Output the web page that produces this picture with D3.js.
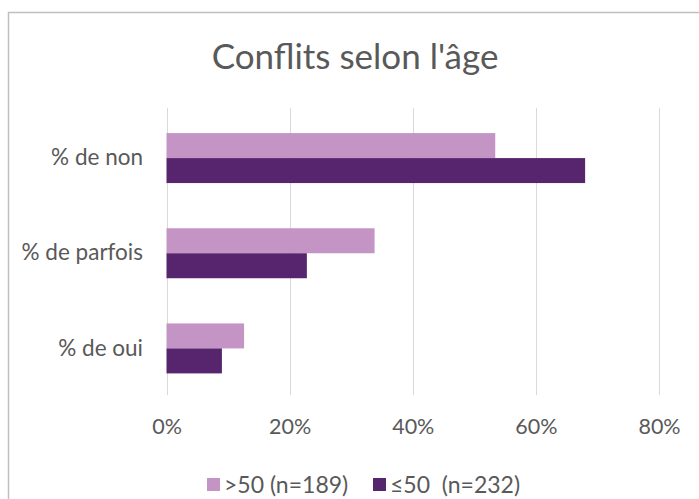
<!DOCTYPE html>
<html>
<head>
<meta charset="utf-8">
<script src="https://cdn.jsdelivr.net/npm/d3@7"></script>
<style>
  html, body { margin: 0; padding: 0; background: #fff; }
  svg { display: block; }
  text { font-family: Lato, "Open Sans", sans-serif; fill: #595959; white-space: pre; }
</style>
</head>
<body>
<svg id="chart" width="699" height="499"></svg>
<script>
const title = "Conflits selon l'âge";
const categories = ["% de non", "% de parfois", "% de oui"];
const seriesNames = [">50 (n=189)", "≤50  (n=232)"];
const over50 = [0.534, 0.338, 0.126];
const under50 = [0.680, 0.228, 0.090];
const tickValues = [0, 0.2, 0.4, 0.6, 0.8];
const colors = ["#c394c4", "#56256d"];

const svg = d3.select("#chart");

// chart border (extends past right/bottom edges)
svg.append("rect")
  .attr("x", 8.5).attr("y", 12.5)
  .attr("width", 720).attr("height", 520)
  .attr("fill", "#fff")
  .attr("stroke", "#bfbfbf").attr("stroke-width", 1.5);

svg.append("text")
  .attr("x", 355).attr("y", 69)
  .attr("text-anchor", "middle")
  .style("font-size", "35px")
  .text(title);

const x = d3.scaleLinear().domain([0, 0.8]).range([166.5, 659]);
const y = d3.scaleBand().domain(categories).range([110.5, 396])
  .paddingInner(0.475).paddingOuter(0.2375);
const ySub = d3.scaleBand().domain(d3.range(seriesNames.length)).range([0, y.bandwidth()]);

// gridlines
svg.append("g").selectAll("line").data(tickValues).join("line")
  .attr("x1", d => Math.round(x(d)) + 0.5).attr("x2", d => Math.round(x(d)) + 0.5)
  .attr("y1", 108).attr("y2", 395)
  .attr("stroke", "#d9d9d9").attr("stroke-width", 1);

// x axis labels
const xAxis = d3.axisBottom(x).tickValues(tickValues).tickFormat(d3.format(".0%")).tickSize(0).tickPadding(0);
const gx = svg.append("g").attr("transform", "translate(0,419)").call(xAxis);
gx.select(".domain").remove();
gx.selectAll("text").style("font-size", "21.5px").style("font-family", "Lato, sans-serif").attr("fill", "#595959").attr("dy", "0.71em");

// y axis labels
const yAxis = d3.axisLeft(y).tickSize(0).tickPadding(0);
const gy = svg.append("g").attr("transform", "translate(143,0)").call(yAxis);
gy.select(".domain").remove();
gy.selectAll("text").style("font-size", "22.5px").style("font-family", "Lato, sans-serif").attr("fill", "#595959");

// bars
const series = [over50, under50];
series.forEach((vals, si) => {
  svg.append("g").selectAll("rect").data(vals).join("rect")
    .attr("x", x(0))
    .attr("y", (d, i) => y(categories[i]) + ySub(si))
    .attr("width", d => x(d) - x(0))
    .attr("height", ySub.bandwidth())
    .attr("fill", colors[si]);
});

// legend
const legendX = [207, 373];
const lg = svg.append("g");
seriesNames.forEach((name, i) => {
  lg.append("rect").attr("x", legendX[i]).attr("y", 478).attr("width", 13).attr("height", 13).attr("fill", colors[i]);
  lg.append("text").attr("x", legendX[i] + 17).attr("y", 484.5).attr("dy", "0.35em")
    .style("font-size", "23px").text(name);
});
</script>
</body>
</html>
